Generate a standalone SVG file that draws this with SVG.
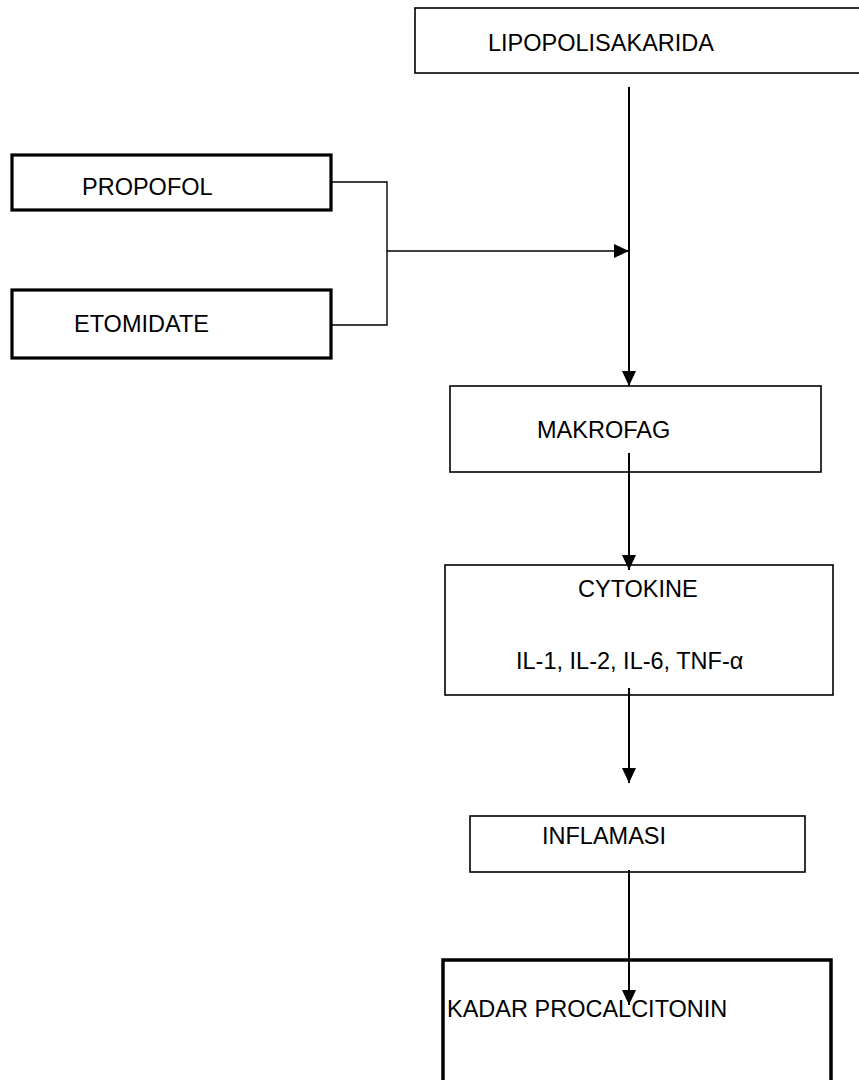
<svg xmlns="http://www.w3.org/2000/svg" width="859" height="1080" viewBox="0 0 859 1080">
<style>
.box{fill:#fff;stroke:#000;stroke-width:1.6}
.thick{fill:#fff;stroke:#000;stroke-width:3.2}
.t{font-family:"Liberation Sans",Arial,sans-serif;font-size:23.5px;fill:#000}
.c{stroke:#000;stroke-width:2;fill:none}
.thin{stroke:#000;stroke-width:1.4;fill:none}
</style>
<defs>
<marker id="ah" markerUnits="userSpaceOnUse" markerWidth="16" markerHeight="16" viewBox="0 0 16 16" refX="15" refY="8" orient="auto">
<path d="M0,1 L15,8 L0,15 Z" fill="#000"/>
</marker>
</defs>
<rect width="859" height="1080" fill="#fff"/>
<g id="lps"><rect class="box" x="415" y="8" width="460" height="65"/><text class="t" x="488" y="51">LIPOPOLISAKARIDA</text></g>
<g id="propofol"><rect class="thick" x="12" y="155" width="319" height="55"/><text class="t" x="82" y="195">PROPOFOL</text></g>
<g id="etomidate"><rect class="thick" x="12" y="290" width="319" height="68"/><text class="t" x="74" y="332">ETOMIDATE</text></g>
<g id="makrofag"><rect class="box" x="450" y="386" width="371" height="86"/><text class="t" x="537" y="438">MAKROFAG</text></g>
<g id="cytokine"><rect class="box" x="445" y="565" width="388" height="130"/><text class="t" x="578" y="597">CYTOKINE</text><text class="t" x="516" y="669">IL-1, IL-2, IL-6, TNF-α</text></g>
<g id="inflamasi"><rect class="box" x="470" y="816" width="335" height="56"/><text class="t" x="542" y="844">INFLAMASI</text></g>
<g id="kadar"><rect class="thick" x="443" y="960" width="388" height="140" style="stroke-width:3.5"/></g>
<g id="connectors">
<line class="c" x1="629" y1="87" x2="629" y2="386" marker-end="url(#ah)"/>
<polyline class="thin" points="331,182 387,182 387,325 331,325"/>
<line class="thin" x1="387" y1="251" x2="629" y2="251" marker-end="url(#ah)"/>
<line class="c" x1="629" y1="453" x2="629" y2="570" marker-end="url(#ah)"/>
<line class="c" x1="629" y1="688" x2="629" y2="783" marker-end="url(#ah)"/>
<line class="c" x1="629" y1="870" x2="629" y2="1005" marker-end="url(#ah)"/>
</g>
<text class="t" x="447" y="1017">KADAR PROCALCITONIN</text>
</svg>
